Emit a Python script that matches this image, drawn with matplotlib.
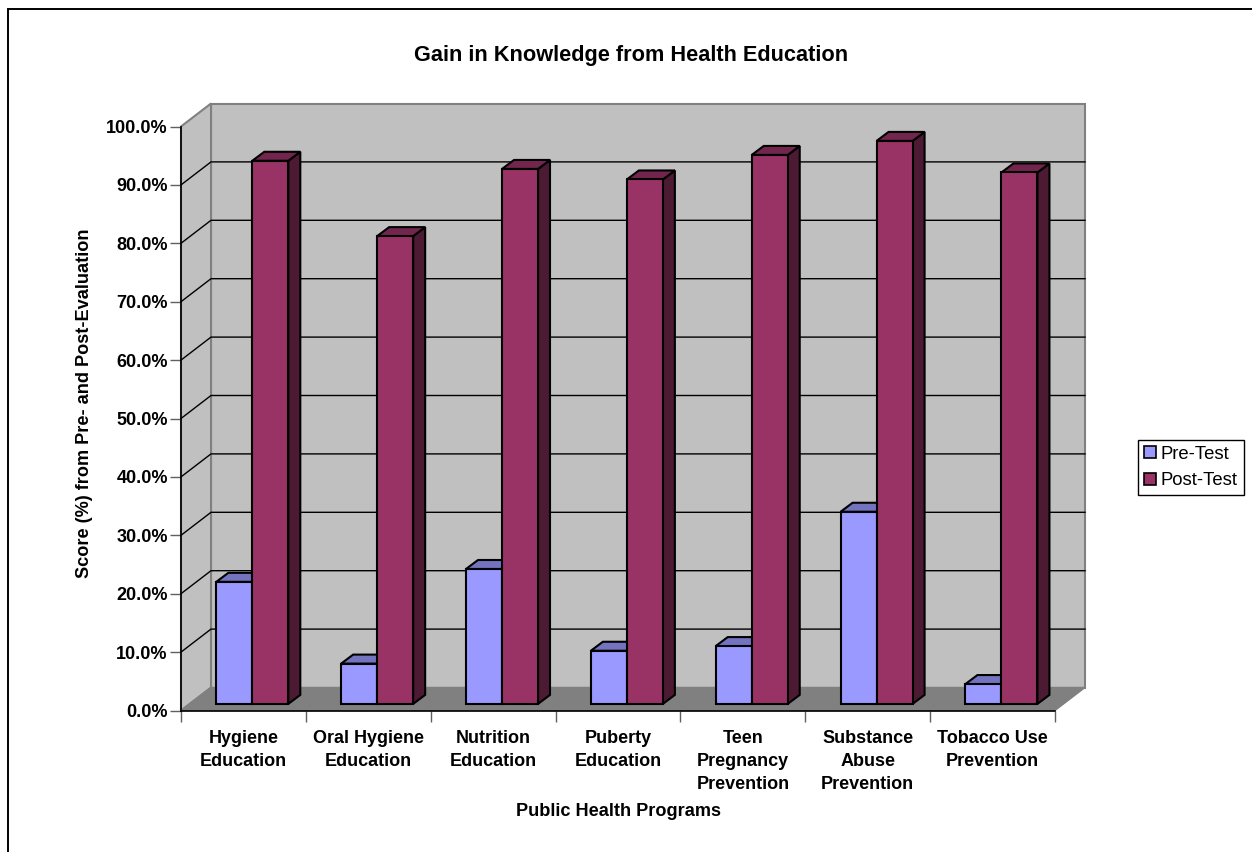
#!/usr/bin/env python3

import matplotlib
matplotlib.use("Agg")
import matplotlib.pyplot as plt
from matplotlib.patches import Polygon, Rectangle

programs = [
    "Hygiene\nEducation",
    "Oral Hygiene\nEducation",
    "Nutrition\nEducation",
    "Puberty\nEducation",
    "Teen\nPregnancy\nPrevention",
    "Substance\nAbuse\nPrevention",
    "Tobacco Use\nPrevention",
]
pre_test = [20.9, 6.9, 23.1, 9.1, 9.9, 32.9, 3.4]
post_test = [93.0, 80.1, 91.6, 89.8, 94.0, 96.4, 91.0]
y_ticks = [0, 10, 20, 30, 40, 50, 60, 70, 80, 90, 100]

W, H = 1252, 852
plt.rcParams["font.family"] = ["Liberation Sans", "DejaVu Sans"]

fig = plt.figure(figsize=(W / 100, H / 100), dpi=100)
fig.patches.append(Rectangle((8 / W, -0.01), 1.1, (H - 9) / H + 0.01, transform=fig.transFigure,
                             fc="white", ec="black", lw=1.4, zorder=-1))

# front plane of the 3d box, in pixels
left, right, top, bottom = 181, 1055, 126.5, 710.5
ax = fig.add_axes([left / W, 1 - bottom / H, (right - left) / W, (bottom - top) / H])
ax.set_xlim(0, 7)
ax.set_ylim(0, 100)
ax.patch.set_visible(False)

px = 7 / (right - left)
py = 100 / (bottom - top)
box_dx, box_dy = 30 * px, 23 * py
bar_dx, bar_dy = 12 * px, 9 * py
bar_w = 36 * px
bar_x0 = 35.3 * px
base = 6.6 * py


def poly(pts, fc, ec="black", lw=1.5, z=3):
    ax.add_patch(Polygon(pts, closed=True, fc=fc, ec=ec, lw=lw, zorder=z, clip_on=False, joinstyle="miter"))


# walls and floor
poly([(box_dx, box_dy), (7 + box_dx, box_dy), (7 + box_dx, 100 + box_dy), (box_dx, 100 + box_dy)],
     "#c0c0c0", "#808080", 1.5, 1)
poly([(0, 0), (box_dx, box_dy), (box_dx, 100 + box_dy), (0, 100)], "#c0c0c0", "#808080", 1.5, 1)
poly([(0, 0), (7, 0), (7 + box_dx, box_dy), (box_dx, box_dy)], "#808080", "#808080", 1, 1)

# gridlines run along the side wall then the back wall
for v in y_ticks[1:-1]:
    ax.plot([0, box_dx, 7 + box_dx], [v, v + box_dy, v + box_dy], color="black", lw=1, zorder=2, clip_on=False)


def bar(x, v, front, roof, side):
    x1 = x + bar_w
    y0, y1 = base, base + v
    poly([(x1, y0), (x1 + bar_dx, y0 + bar_dy), (x1 + bar_dx, y1 + bar_dy), (x1, y1)], side)
    poly([(x, y1), (x1, y1), (x1 + bar_dx, y1 + bar_dy), (x + bar_dx, y1 + bar_dy)], roof)
    poly([(x, y0), (x1, y0), (x1, y1), (x, y1)], front)


for i in range(len(programs)):
    x = i + bar_x0
    bar(x, pre_test[i], "#9999ff", "#7373bf", "#4d4d80")
    bar(x + bar_w, post_test[i], "#993366", "#73264d", "#4d1a33")

for s in ["top", "right"]:
    ax.spines[s].set_visible(False)
ax.spines["left"].set_linewidth(1.2)
ax.spines["bottom"].set_linewidth(1.2)
ax.spines["bottom"].set_zorder(2)

ax.set_xticks(range(8))
ax.set_xticklabels([])
ax.set_yticks(y_ticks)
ax.set_yticklabels(["{:.1f}%".format(v) for v in y_ticks], fontsize=13, fontweight="bold")
ax.tick_params(axis="x", length=8, width=1, color="#606060")
ax.tick_params(axis="y", length=8, width=1, color="#606060", pad=1.5)

for i, name in enumerate(programs):
    ax.text(i + 0.5, -3.3, name, ha="center", va="top", fontsize=13, fontweight="bold", linespacing=1.47)

fig.text(631 / W, 1 - 55 / H, "Gain in Knowledge from Health Education",
         ha="center", va="center", fontsize=15.7, fontweight="bold")
fig.text(85 / W, 1 - 403 / H, "Score (%) from Pre- and Post-Evaluation", rotation=90,
         ha="center", va="center", fontsize=13.1, fontweight="bold")
fig.text(618 / W, 1 - 811 / H, "Public Health Programs", ha="center", va="center", fontsize=13.1, fontweight="bold")

# legend box
handles = [
    Rectangle((0, 0), 1, 1, fc="#9999ff", ec="black", lw=1.2),
    Rectangle((0, 0), 1, 1, fc="#993366", ec="black", lw=1.2),
]
leg = fig.legend(handles, ["Pre-Test", "Post-Test"], loc="center left", bbox_to_anchor=(1138 / W, 1 - 467.5 / H),
                 fontsize=13.3, frameon=True, fancybox=False, edgecolor="black", framealpha=1,
                 borderpad=0.33, handlelength=0.65, handleheight=0.65, handletextpad=0.25, labelspacing=0.52,
                 borderaxespad=0)
leg.get_frame().set_linewidth(1)

fig.savefig("out.png", dpi=100)
